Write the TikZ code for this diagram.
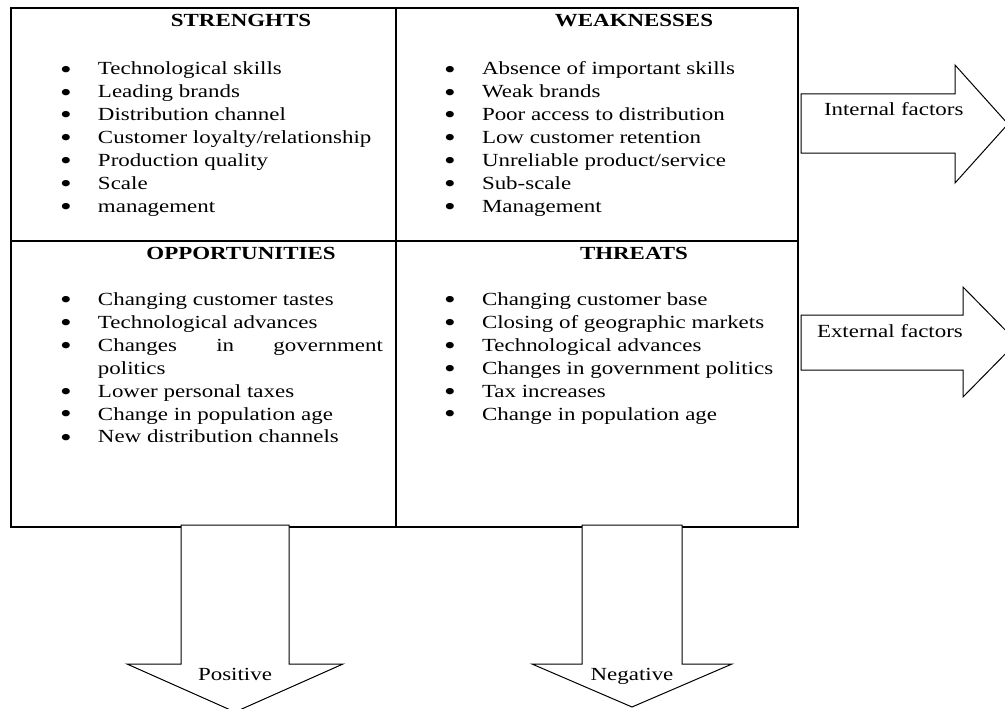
\documentclass[tikz,border=0pt]{standalone}
\usepackage{fontspec}
\setmainfont{Liberation Serif}[FakeStretch=1.24]
\newcommand\itm{\makebox[39pt][l]{\makebox[14pt][c]{\raisebox{-3pt}[0pt][0pt]{\scalebox{1.45}{\textbullet}}}}}
\newcommand\cont{\hspace*{39pt}}
\begin{document}
\begin{tikzpicture}[x=1pt,y=-1pt,
  every node/.style={inner sep=0pt, outer sep=0pt, font=\fontsize{18.5}{23}\selectfont},
  grid/.style={draw, line width=1.2pt},
  head/.style={anchor=base, font=\fontsize{18.5}{23}\selectfont\bfseries},
  listbox/.style={anchor=base west},
  bigarrow/.style={draw, fill=white, line width=1pt, line join=miter},
  arrlabel/.style={anchor=base west},
  downlabel/.style={anchor=base}]
\useasboundingbox (0,0) rectangle (1005,709);

% SWOT grid
\draw[grid] (11,8) rectangle (798,527);
\draw[grid] (396,8) -- (396,527);
\draw[grid] (11,241) -- (798,241);

% headings
\node[head] (hS) at (241,27) {STRENGHTS};
\node[head] (hW) at (634,27) {WEAKNESSES};
\node[head] (hO) at (241,259) {OPPORTUNITIES};
\node[head] (hT) at (634,259) {THREATS};

% lists
\node[listbox] (lS) at (59,75) {\begin{tabular}[t]{@{}l@{}}
\itm Technological skills\\
\itm Leading brands\\
\itm Distribution channel\\
\itm Customer loyalty/relationship\\
\itm Production quality\\
\itm Scale\\
\itm management
\end{tabular}};

\node[listbox] (lW) at (443,75) {\begin{tabular}[t]{@{}l@{}}
\itm Absence of important skills\\
\itm Weak brands\\
\itm Poor access to distribution\\
\itm Low customer retention\\
\itm Unreliable product/service\\
\itm Sub-scale\\
\itm Management
\end{tabular}};

\node[listbox] (lO) at (59,305) {\begin{tabular}[t]{@{}l@{}}
\itm Changing customer tastes\\
\itm Technological advances\\
\itm \makebox[285pt][s]{Changes in government}\\
\cont politics\\
\itm Lower personal taxes\\
\itm Change in population age\\
\itm New distribution channels
\end{tabular}};

\node[listbox] (lT) at (443,305) {\begin{tabular}[t]{@{}l@{}}
\itm Changing customer base\\
\itm Closing of geographic markets\\
\itm Technological advances\\
\itm Changes in government politics\\
\itm Tax increases\\
\itm Change in population age
\end{tabular}};

% right arrows
\draw[bigarrow] (801,94) -- (955,94) -- (955,65) -- (1008,124) -- (955,183) -- (955,153) -- (801,153) -- cycle;
\node[arrlabel] (aI) at (824,116) {Internal factors};

\draw[bigarrow] (801,315) -- (963,315) -- (963,287) -- (1017,342) -- (963,397) -- (963,370) -- (801,370) -- cycle;
\node[arrlabel] (aE) at (817,337) {External factors};

% down arrows
\draw[bigarrow] (181,525) -- (289,525) -- (289,664) -- (343,664) -- (235,712) -- (127,664) -- (181,664) -- cycle;
\node[downlabel] (aP) at (235,680) {Positive};

\draw[bigarrow] (582,525) -- (682,525) -- (682,664) -- (732,664) -- (632,707) -- (532,664) -- (582,664) -- cycle;
\node[downlabel] (aN) at (632,680) {Negative};
\end{tikzpicture}
\end{document}
